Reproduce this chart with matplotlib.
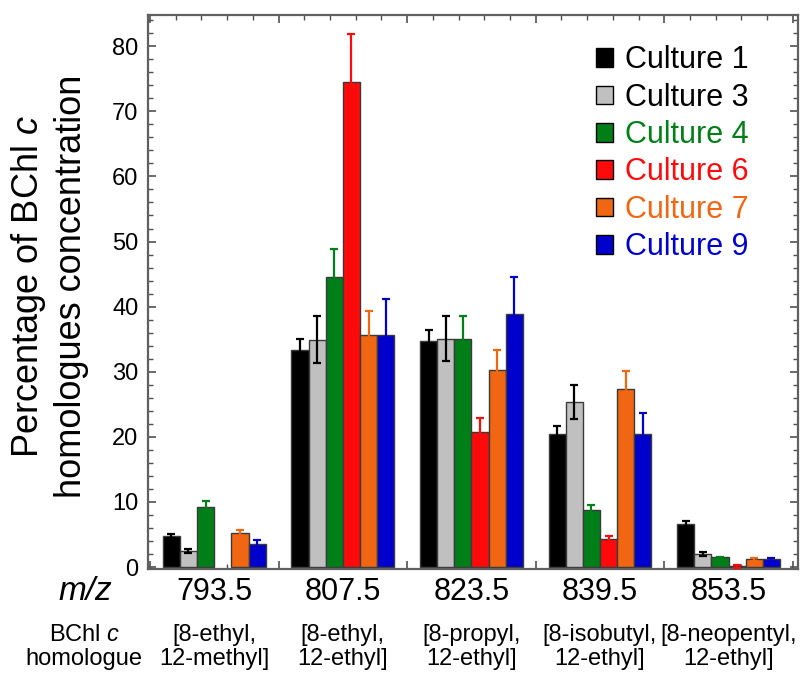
import matplotlib.pyplot as plt
import matplotlib.transforms as mtransforms
from matplotlib.ticker import MultipleLocator, FixedLocator
from matplotlib.patches import Patch
import numpy as np

plt.rcParams['font.family'] = ['Liberation Sans', 'DejaVu Sans']
plt.rcParams['mathtext.fontset'] = 'custom'
plt.rcParams['mathtext.rm'] = 'Liberation Sans'
plt.rcParams['mathtext.it'] = 'Liberation Sans:italic'

mz_labels = ['793.5', '807.5', '823.5', '839.5', '853.5']
homologues = ['[8-ethyl,\n12-methyl]', '[8-ethyl,\n12-ethyl]', '[8-propyl,\n12-ethyl]',
              '[8-isobutyl,\n12-ethyl]', '[8-neopentyl,\n12-ethyl]']
cultures = ['Culture 1', 'Culture 3', 'Culture 4', 'Culture 6', 'Culture 7', 'Culture 9']

# percentage per homologue (793.5 ... 853.5) and its error
culture1 = [4.7, 33.3, 34.7, 20.5, 6.6]
culture1_err = [0.3, 1.7, 1.7, 1.1, 0.4]
culture3 = [2.4, 34.9, 35.1, 25.3, 2.0]
culture3_err = [0.3, 3.6, 3.5, 2.6, 0.3]
culture4 = [9.2, 44.5, 35.1, 8.7, 1.5]
culture4_err = [0.9, 4.4, 3.5, 0.9, 0.1]
culture6 = [np.nan, 74.5, 20.7, 4.3, 0.1]
culture6_err = [np.nan, 7.4, 2.2, 0.5, 0.2]
culture7 = [5.2, 35.7, 30.2, 27.3, 1.2]
culture7_err = [0.5, 3.6, 3.1, 2.8, 0.2]
culture9 = [3.5, 35.7, 38.8, 20.5, 1.2]
culture9_err = [0.6, 5.4, 5.8, 3.1, 0.2]

values = [culture1, culture3, culture4, culture6, culture7, culture9]
errors = [culture1_err, culture3_err, culture4_err, culture6_err, culture7_err, culture9_err]
colors = ['#000000', '#c0c0c0', '#007f18', '#ff0a0a', '#f06612', '#0000cc']
text_colors = ['#000000', '#000000', '#007f18', '#ff0a0a', '#f06612', '#0000cc']

fig = plt.figure(figsize=(8.03, 6.74), dpi=100)
ax = fig.add_axes([0.1843, 0.1558, 0.8095, 0.822])

x = np.arange(len(mz_labels))
width = 0.8 / len(cultures)
for i in range(len(cultures)):
    pos = x - 0.4 + width * (i + 0.5)
    ax.bar(pos, values[i], width, color=colors[i], edgecolor='#3a3a3a', linewidth=1.0, zorder=2)
    ax.errorbar(pos, values[i], yerr=errors[i], fmt='none', ecolor=text_colors[i],
                elinewidth=1.6, capsize=3, capthick=1.6, zorder=3)

ax.set_xlim(-0.515, 4.54)
ax.set_ylim(-0.3, 84.8)
ax.yaxis.set_major_locator(MultipleLocator(10))
ax.yaxis.set_minor_locator(MultipleLocator(2))
ax.xaxis.set_major_locator(FixedLocator(np.arange(-0.5, 5.0, 1.0)))
ax.xaxis.set_minor_locator(FixedLocator(np.arange(-0.5, 4.6, 0.2)))
ax.set_xticklabels([])
ax.tick_params(which='both', direction='in', top=True, right=True, color='#505050')
ax.tick_params(which='major', length=6, width=1.2, labelsize=17, pad=7)
ax.tick_params(which='minor', length=3.5, width=1.0)
for s in ax.spines.values():
    s.set_color('#606060')
    s.set_linewidth(1.6)

handles = [Patch(facecolor=c, edgecolor='#000000', linewidth=1.0) for c in colors]
leg = ax.legend(handles, cultures, loc='upper left', bbox_to_anchor=(0.671, 0.967),
                frameon=False, fontsize=22, handlelength=0.55, handleheight=0.55,
                handletextpad=0.4, labelspacing=0.24, borderaxespad=0)
for t, c in zip(leg.get_texts(), text_colors):
    t.set_color(c)

fig.text(0.061, 0.575, 'Percentage of BChl $c$\nhomologues concentration', rotation=90,
         ha='center', va='center', multialignment='center', fontsize=26, linespacing=1.2)

trans = mtransforms.blended_transform_factory(ax.transData, fig.transFigure)
fig.text(0.106, 0.122, 'm/z', fontsize=24, style='italic', ha='center', va='center')
for i in range(len(mz_labels)):
    ax.text(x[i], 0.122, mz_labels[i], transform=trans, ha='center', va='center', fontsize=22)
    ax.text(x[i], 0.040, homologues[i], transform=trans, ha='center', va='center',
            fontsize=17, linespacing=1.1)
fig.text(0.105, 0.040, 'BChl $c$\nhomologue', ha='center', va='center', fontsize=17,
         linespacing=1.1)

fig.savefig('out.png', dpi=100)
